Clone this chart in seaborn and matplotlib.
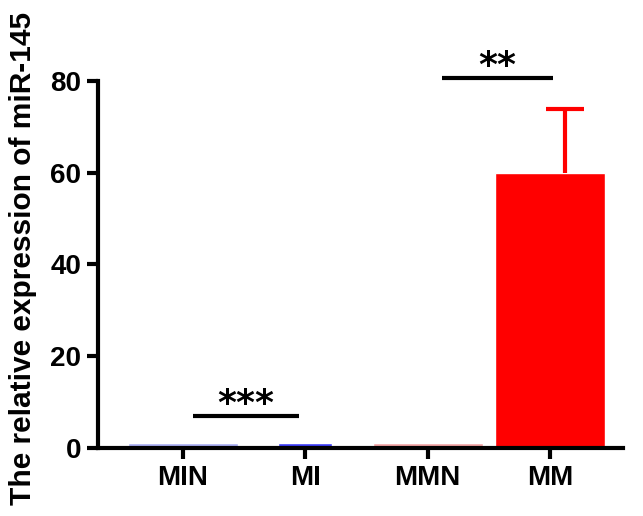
import matplotlib
matplotlib.use("Agg")
import matplotlib.pyplot as plt
import seaborn as sns
import pandas as pd

groups = ["MIN", "MI", "MMN", "MM"]
means = [1.0, 1.0, 1.0, 60.0]
sd_upper = [0.0, 0.0, 0.0, 13.8]
colors = ["#a9aef2", "#3b3bf5", "#f2a3a3", "#ff0000"]
sig_pairs = [(0, 1, 7.0, "***"), (2, 3, 80.5, "**")]

sns.set_theme(style="ticks")
plt.rcParams["font.family"] = ["Liberation Sans", "DejaVu Sans"]
plt.rcParams["font.weight"] = "bold"
plt.rcParams["text.color"] = "black"
plt.rcParams["axes.edgecolor"] = "black"
plt.rcParams["xtick.color"] = "black"
plt.rcParams["ytick.color"] = "black"
plt.rcParams["axes.labelcolor"] = "black"

df = pd.DataFrame({"group": groups, "value": means})

fig = plt.figure(figsize=(6.43, 5.16), dpi=100)
ax = fig.add_axes([0.152, 0.132, 0.817, 0.756])

sns.barplot(data=df, x="group", y="value", hue="group", palette=colors,
            width=0.9, legend=False, errorbar=None, ax=ax, saturation=1)

# the MI bar is drawn narrower in the original
p = ax.patches[1]
cx = p.get_x() + p.get_width() / 2
p.set_width(0.44)
p.set_x(cx - 0.22)

# upper-only error bar on MM
_, caps, _ = ax.errorbar(3 + 0.12, means[3], yerr=[[0], [sd_upper[3]]],
                         fmt="none", ecolor=colors[3], elinewidth=3,
                         capsize=14, capthick=3)
caps[0].set_visible(False)

for a, b, h, label in sig_pairs:
    x0 = a + 0.08 if a == 0 else a + 0.12
    x1 = b - 0.05 if a == 0 else b + 0.02
    ax.plot([x0, x1], [h, h], color="black", lw=3, clip_on=False,
            solid_capstyle="butt")
    ax.annotate(label, ((x0 + x1) / 2, h), xytext=(0, -3.5),
                textcoords="offset points", ha="center", va="bottom",
                fontsize=26, fontweight="bold", annotation_clip=False,
                family=["DejaVu Sans"])

ax.set_xlim(-0.694, 3.596)
ax.set_ylim(0, 85)
ax.set_yticks([0, 20, 40, 60, 80])
ax.spines["left"].set_bounds(0, 80)
for s in ["top", "right"]:
    ax.spines[s].set_visible(False)
for s in ["left", "bottom"]:
    ax.spines[s].set_linewidth(3)
ax.tick_params(axis="both", width=3, length=8, labelsize=20, pad=4)
for t in ax.get_xticklabels() + ax.get_yticklabels():
    t.set_fontweight("bold")
ax.set_xlabel("")
ax.set_ylabel("")
fig.text(0.036, 0.5, "The relative expression of miR-145", rotation=90,
         ha="center", va="center", fontsize=21.5, fontweight="bold")

fig.savefig("out.png", dpi=100)
